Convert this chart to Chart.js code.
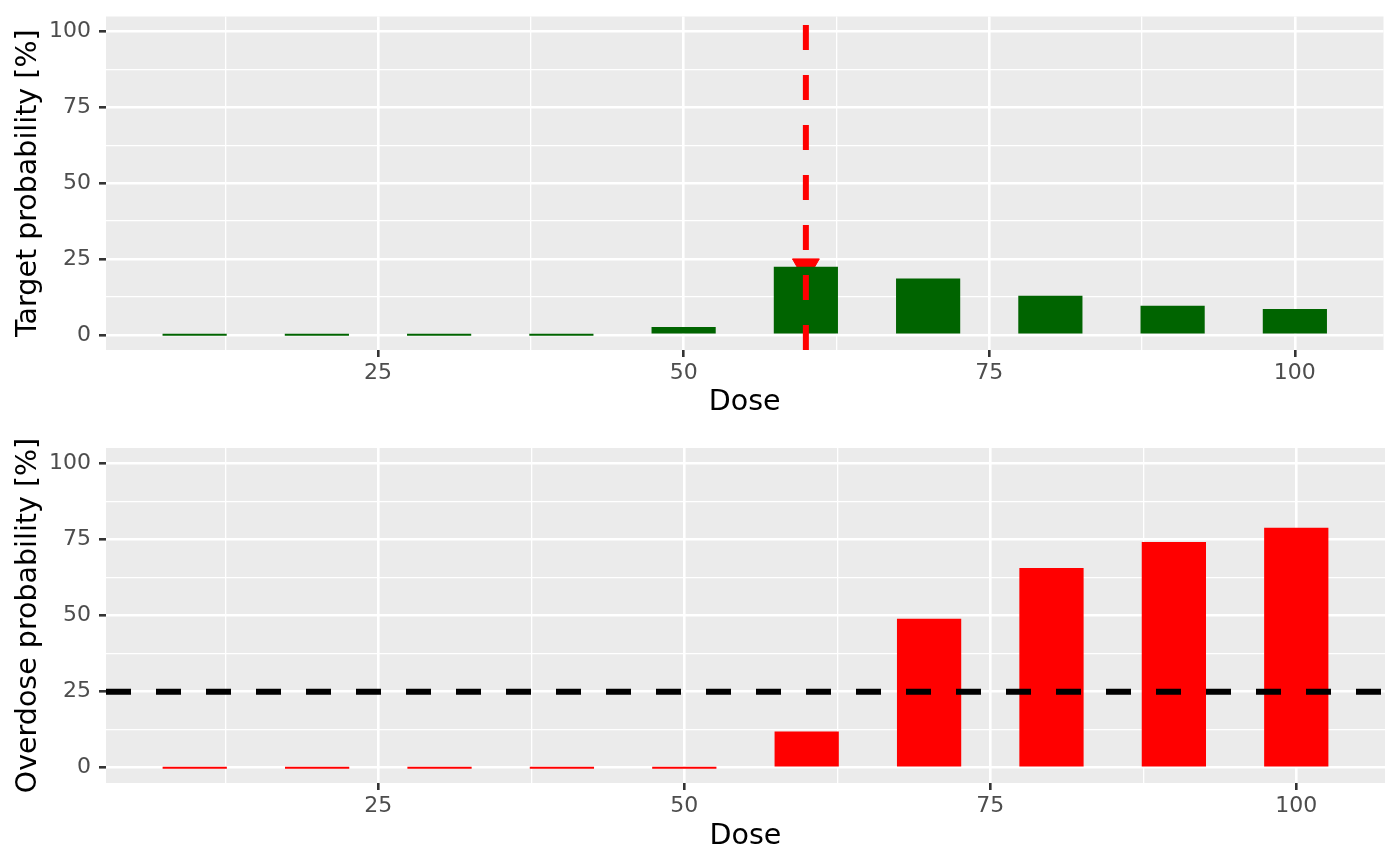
<!DOCTYPE html>
<html>
<head>
<meta charset="utf-8">
<script src="https://cdn.jsdelivr.net/npm/chart.js@4"></script>
<style>
  html, body { margin: 0; padding: 0; background: #ffffff; }
  #top { position: absolute; left: 0; top: 0; width: 1400px; height: 432px; }
  #bot { position: absolute; left: 0; top: 432px; width: 1400px; height: 434px; }
</style>
</head>
<body>
<div id="top"><canvas id="c1"></canvas></div>
<div id="bot"><canvas id="c2"></canvas></div>
<script>
// ---- data ----
const doses = [10, 20, 30, 40, 50, 60, 70, 80, 90, 100];
const targetProb = [0, 0, 0, 0, 2.6, 22.5, 18.6, 12.9, 9.6, 8.5];
const overdoseProb = [0, 0, 0, 0, 0, 11.9, 48.9, 65.6, 74.1, 78.8];
const nextDose = 60;
const overdoseLimit = 25;
const xTicks = [25, 50, 75, 100];
const yTicks = [0, 25, 50, 75, 100];

// ---- helpers ----
const barUnits = 5;
const dMin = Math.min(...doses) - barUnits / 2;
const dMax = Math.max(...doses) + barUnits / 2;
const xPad = 0.05 * (dMax - dMin);
const xMinorTicks = [12.5, 37.5, 62.5, 87.5];
const yMinorTicks = [12.5, 37.5, 62.5, 87.5];

Chart.defaults.font.family = "'DejaVu Sans', sans-serif";
Chart.defaults.animation = false;

const panelBg = {
  id: 'panelBg',
  beforeDraw(chart) {
    const {ctx, chartArea: a} = chart;
    ctx.save();
    ctx.fillStyle = '#EBEBEB';
    ctx.fillRect(a.left, a.top, a.right - a.left, a.bottom - a.top);
    ctx.restore();
  }
};

function isMajor(v, majors) { return majors.indexOf(v) !== -1; }

function makeScales(yTitle, xAxisHeight) {
  return {
    x: {
      type: 'linear',
      min: dMin - xPad,
      max: dMax + xPad,
      offset: false,
      afterBuildTicks(s) {
        s.ticks = xMinorTicks.concat(xTicks).sort((a, b) => a - b).map(v => ({value: v}));
      },
      afterFit(s) {
        s.height = xAxisHeight;
        s.paddingLeft = 0; s.paddingRight = 0; s.paddingTop = 0; s.paddingBottom = 0;
      },
      border: { display: false },
      grid: {
        offset: false,
        color: '#FFFFFF',
        lineWidth: c => (c.tick && isMajor(c.tick.value, xTicks)) ? 2.6 : 1.3,
        tickColor: c => (c.tick && isMajor(c.tick.value, xTicks)) ? '#333333' : 'rgba(0,0,0,0)',
        tickWidth: 2.6,
        tickLength: 7,
        drawTicks: true
      },
      ticks: {
        autoSkip: false,
        maxRotation: 0,
        padding: 3,
        color: '#4D4D4D',
        font: { size: 22 },
        callback: v => isMajor(v, xTicks) ? String(v) : ''
      },
      title: {
        display: true,
        text: 'Dose',
        color: '#000000',
        font: { size: 28.5 },
        padding: { top: 0, bottom: 12 }
      }
    },
    y: {
      type: 'linear',
      min: -5,
      max: 105,
      afterBuildTicks(s) {
        s.ticks = yMinorTicks.concat(yTicks).sort((a, b) => a - b).map(v => ({value: v}));
      },
      afterFit(s) {
        s.width = 106;
        s.paddingLeft = 0; s.paddingRight = 0; s.paddingTop = 0; s.paddingBottom = 0;
      },
      border: { display: false },
      grid: {
        color: '#FFFFFF',
        lineWidth: c => (c.tick && isMajor(c.tick.value, yTicks)) ? 2.6 : 1.3,
        tickColor: c => (c.tick && isMajor(c.tick.value, yTicks)) ? '#333333' : 'rgba(0,0,0,0)',
        tickWidth: 2.6,
        tickLength: 7
      },
      ticks: {
        autoSkip: false,
        padding: 8,
        color: '#4D4D4D',
        font: { size: 22 },
        callback: v => isMajor(v, yTicks) ? String(v) : ''
      },
      title: {
        display: true,
        text: yTitle,
        color: '#000000',
        font: { size: 28.5 },
        padding: { top: 11, bottom: 0 }
      }
    }
  };
}

const commonOpts = {
  responsive: true,
  maintainAspectRatio: false,
  animation: false,
  events: [],
  plugins: { legend: { display: false }, tooltip: { enabled: false } }
};

// vertical dashed line at the recommended next dose
const nextDoseLine = {
  id: 'nextDoseLine',
  afterDatasetsDraw(chart) {
    const {ctx, chartArea: a, scales} = chart;
    const x = scales.x.getPixelForValue(nextDose);
    ctx.save();
    ctx.beginPath();
    ctx.rect(a.left, a.top, a.right - a.left, a.bottom - a.top);
    ctx.clip();
    ctx.strokeStyle = '#FF0000';
    ctx.lineWidth = 6;
    ctx.setLineDash([25, 25]);
    ctx.beginPath();
    ctx.moveTo(x, a.bottom);
    ctx.lineTo(x, a.top);
    ctx.stroke();
    ctx.restore();
  }
};

// horizontal dashed line at overdose limit
const limitLine = {
  id: 'limitLine',
  afterDatasetsDraw(chart) {
    const {ctx, chartArea: a, scales} = chart;
    const y = scales.y.getPixelForValue(overdoseLimit);
    ctx.save();
    ctx.strokeStyle = '#000000';
    ctx.lineWidth = 6;
    ctx.setLineDash([25, 25]);
    ctx.beginPath();
    ctx.moveTo(a.left, y);
    ctx.lineTo(a.right, y);
    ctx.stroke();
    ctx.restore();
  }
};

const barStyle = {
  categoryPercentage: 1.0,
  barPercentage: 0.525,
  minBarLength: 2,
  borderWidth: 0
};

new Chart(document.getElementById('c1'), {
  type: 'bar',
  data: {
    datasets: [
      Object.assign({
        label: 'Target',
        data: doses.map((d, i) => ({x: d, y: targetProb[i]})),
        backgroundColor: '#006400'
      }, barStyle),
      {
        type: 'line',
        label: 'Next',
        data: [{x: nextDose, y: targetProb[doses.indexOf(nextDose)]}],
        showLine: false,
        pointStyle: 'triangle',
        rotation: 180,
        pointRadius: 15.5,
        pointBackgroundColor: '#FF0000',
        pointBorderColor: '#FF0000',
        pointBorderWidth: 1
      }
    ]
  },
  options: Object.assign({}, commonOpts, {
    layout: { padding: { top: 15, right: 15, left: 0, bottom: 0 } },
    scales: makeScales('Target probability [%]', 82)
  }),
  plugins: [panelBg, nextDoseLine]
});

new Chart(document.getElementById('c2'), {
  type: 'bar',
  data: {
    datasets: [
      Object.assign({
        label: 'Overdose',
        data: doses.map((d, i) => ({x: d, y: overdoseProb[i]})),
        backgroundColor: '#FF0000'
      }, barStyle)
    ]
  },
  options: Object.assign({}, commonOpts, {
    layout: { padding: { top: 16, right: 15, left: 0, bottom: 0 } },
    scales: makeScales('Overdose probability [%]', 83)
  }),
  plugins: [panelBg, limitLine]
});
</script>
</body>
</html>
